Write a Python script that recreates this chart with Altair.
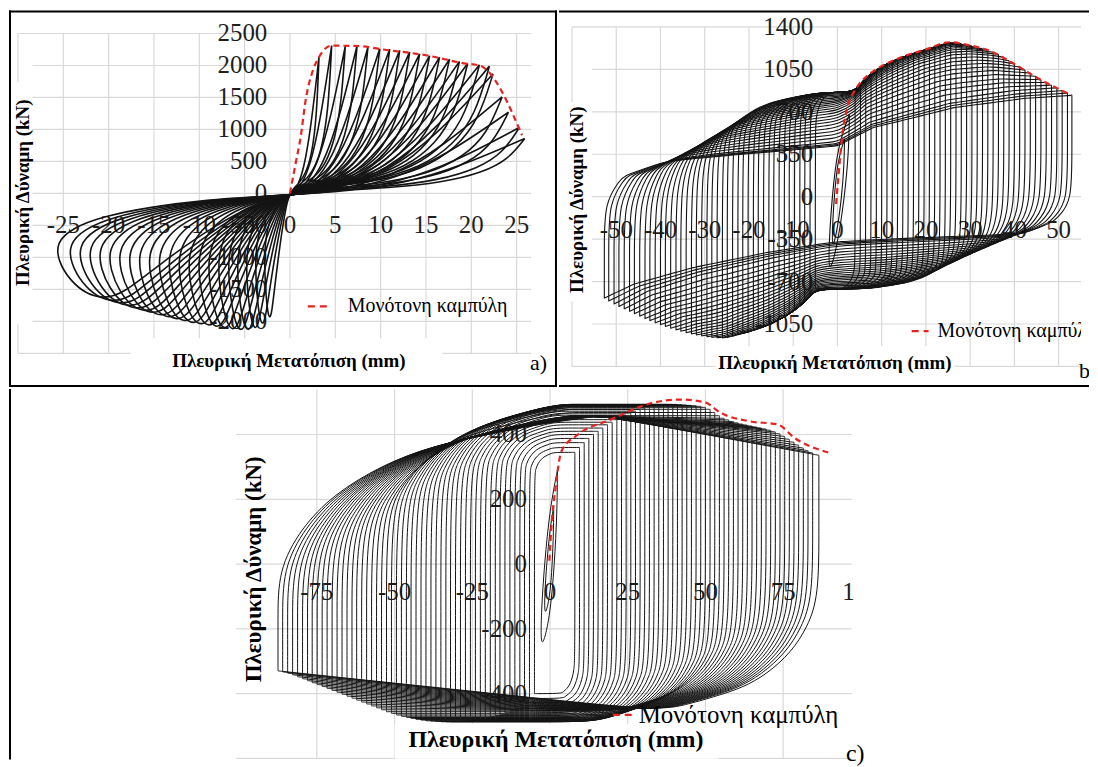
import numpy as np
import pandas as pd
import altair as alt

SERIF = "Liberation Serif"
INK = "#141414"
GRID = "#d9d9d9"
RED = "#e8231f"

# ---------------- panel (a) : peaks of every cycle ----------------
A_DP = [3.2, 4.6, 6.1, 7.4, 8.6, 9.9, 11.0, 12.1, 13.2, 14.3, 15.4, 16.5, 17.6, 18.7, 19.6, 20.9, 22.0, 22.4, 23.4, 24.1, 25.3, 25.9]
A_FP = [2130, 2310, 2300, 2310, 2285, 2260, 2255, 2235, 2210, 2180, 2155, 2130, 2100, 2065, 2030, 2010, 1990, 1870, 1510, 1270, 1030, 860]
A_DN = [2.8, 3.8, 4.8, 5.8, 6.8, 7.9, 9.0, 10.1, 11.2, 12.3, 13.4, 14.5, 15.6, 16.7, 17.8, 18.9, 20.0, 21.1, 22.2, 23.3, 24.4, 25.8]
A_FN = [1950, 2050, 2120, 2150, 2150, 2140, 2120, 2100, 2080, 2060, 2040, 2010, 1980, 1950, 1920, 1880, 1850, 1810, 1770, 1730, 1690, 1640]
A_MONO_X = [0.0, 0.6, 1.2, 1.7, 2.6, 3.2, 4.6, 7.5, 10.0, 15.0, 19.4, 20.9, 25.6]
A_MONO_Y = [0, 450, 900, 1430, 1950, 2130, 2310, 2305, 2255, 2160, 2030, 2000, 910]
A_XTICKS = [-25, -20, -15, -10, -5, 0, 5, 10, 15, 20, 25]
A_YTICKS = [2500, 2000, 1500, 1000, 500, 0, -500, -1000, -1500, -2000]
A_GRID_X = [-30, -25, -20, -15, -10, -5, 0, 5, 10, 15, 20, 25]
A_GRID_Y = [2500, 2000, 1500, 1000, 500, 0, -500, -1000, -1500, -2000, -2500]
# loop shape of (a), normalised by the cycle peaks
A_TU = [1.0, 0.72, 0.48, 0.26, 0.08, -0.12, -0.35, -0.6, -0.8, -0.93, -1.0, -0.99, -0.94, -0.87, -0.8, -0.72, -0.55, -0.32, -0.13, 0.0, 0.18, 0.42, 0.65, 0.82, 0.93, 1.0]
A_TV = [1.0, 0.48, 0.18, 0.05, 0.0, -0.03, -0.06, -0.13, -0.22, -0.33, -0.47, -0.65, -0.83, -0.96, -1.0, -0.97, -0.66, -0.3, -0.08, 0.0, 0.05, 0.1, 0.2, 0.38, 0.62, 1.0]

# ---------------- panel (b) ----------------
B_DP = [4.0, 5.2, 6.4, 7.6, 8.8, 10.0, 11.2, 12.4, 13.6, 14.8, 16.0, 17.2, 18.4, 19.6, 20.8, 22.0, 23.2, 24.4, 25.6, 26.8, 28.0, 29.2, 30.4, 31.6, 32.8, 34.0, 35.2, 36.4, 37.6, 38.8, 40.0, 41.2, 42.4, 43.6, 44.8, 46.0, 47.2, 48.4, 49.6, 50.8, 52.0, 53.0]
B_FP = [860, 930, 975, 1010, 1045, 1070, 1095, 1115, 1135, 1150, 1165, 1180, 1195, 1208, 1220, 1235, 1250, 1262, 1272, 1268, 1262, 1252, 1243, 1232, 1220, 1206, 1192, 1172, 1150, 1122, 1095, 1070, 1045, 1020, 993, 965, 943, 920, 898, 875, 855, 836]
B_DN = [5.0, 6.2, 7.4, 8.5, 9.7, 10.9, 12.0, 13.2, 14.4, 15.5, 16.7, 17.9, 19.0, 20.2, 21.4, 22.5, 23.7, 24.9, 26.0, 27.2, 28.4, 29.5, 30.7, 31.9, 33.0, 34.2, 35.4, 36.5, 37.7, 38.9, 40.0, 41.2, 42.4, 43.5, 44.7, 45.9, 47.0, 48.2, 49.4, 50.5, 51.7, 52.7]
B_FN = [760, 820, 865, 900, 935, 965, 990, 1012, 1035, 1055, 1072, 1088, 1102, 1115, 1127, 1138, 1150, 1160, 1165, 1163, 1160, 1155, 1148, 1140, 1132, 1122, 1110, 1098, 1085, 1070, 1055, 1040, 1022, 1005, 985, 965, 945, 925, 905, 885, 860, 836]
B_SMALL_DP = [1.6, 2.7]
B_SMALL_FP = [480, 680]
B_SMALL_DN = [1.2, 2.0]
B_SMALL_FN = [450, 670]
B_MONO_X = [-0.3, 0.3, 1.1, 2.3, 4.2, 6.5, 8.9, 14.4, 20.0, 25.3, 30.0, 35.0, 39.3, 45.6, 53.0]
B_MONO_Y = [-60, 200, 507, 740, 890, 990, 1054, 1150, 1215, 1274, 1248, 1195, 1109, 972, 836]
B_XTICKS = [-50, -40, -30, -20, -10, 0, 10, 20, 30, 40, 50]
B_YTICKS = [1400, 1050, 700, 350, 0, -350, -700, -1050]
B_GRID_X = [-60, -50, -40, -30, -20, -10, 0, 10, 20, 30, 40, 50]
B_GRID_Y = [1400, 1050, 700, 350, 0, -350, -700, -1050, -1400]
# pinched branches of the widest cycles (normalised)
B_PUP_U = [-1.0, -0.92, -0.75, -0.6, -0.3, 0.0, 0.15, 0.5, 0.8, 1.0]
B_PUP_V = [-0.05, 0.2, 0.34, 0.38, 0.44, 0.5, 0.68, 0.88, 0.97, 1.0]
B_PDN_U = [1.0, 0.92, 0.8, 0.64, 0.3, 0.0, -0.3, -0.62, -0.87, -1.0]
B_PDN_V = [-0.05, -0.25, -0.36, -0.38, -0.41, -0.44, -0.55, -0.7, -0.86, -1.0]

# ---------------- panel (c) ----------------
C_DP = [8.0, 9.5, 11.0, 12.5, 14.0, 15.5, 17.0, 18.5, 20.0, 21.5, 23.0, 24.5, 26.0, 27.5, 29.0, 30.5, 32.0, 33.5, 35.0, 36.5, 38.0, 39.5, 41.0, 42.5, 44.0, 45.5, 47.0, 48.5, 50.0, 51.5, 53.0, 54.5, 56.0, 57.5, 59.0, 60.5, 62.0, 63.5, 65.0, 66.5, 68.0, 69.5, 71.0, 72.5, 74.0, 75.5, 77.0, 78.5, 80.0, 81.5, 83.0, 84.5, 86.5]
C_FP = [345, 360, 375, 388, 400, 410, 420, 430, 438, 446, 453, 460, 466, 472, 477, 482, 486, 489, 491, 492, 493, 493, 493, 492, 491, 490, 489, 487, 484, 478, 468, 458, 450, 445, 440, 436, 432, 429, 426, 423, 420, 417, 413, 408, 402, 394, 385, 376, 367, 358, 350, 343, 336]
C_DN = [5.0, 6.6, 8.2, 9.7, 11.3, 12.9, 14.5, 16.1, 17.6, 19.2, 20.8, 22.4, 24.0, 25.6, 27.2, 28.8, 30.4, 32.0, 33.5, 35.1, 36.7, 38.3, 39.9, 41.5, 43.1, 44.7, 46.2, 47.8, 49.4, 51.0, 52.6, 54.2, 55.8, 57.4, 59.0, 60.6, 62.2, 63.7, 65.3, 66.9, 68.5, 70.1, 71.7, 73.3, 74.9, 76.5, 78.0, 79.6, 81.2, 82.8, 84.4, 86.0, 87.5]
C_FN = [400, 415, 428, 438, 446, 453, 459, 464, 468, 472, 475, 478, 480, 482, 484, 485, 486, 487, 487, 487, 486, 485, 484, 482, 480, 477, 474, 470, 466, 461, 456, 450, 444, 438, 432, 426, 420, 414, 408, 402, 396, 390, 384, 378, 372, 366, 360, 354, 348, 342, 337, 333, 330]
C_SMALL_DP = [1.2, 2.4]
C_SMALL_FP = [180, 290]
C_SMALL_DN = [1.8, 3.0]
C_SMALL_FN = [170, 280]
C_MONO_X = [-0.2, 0.5, 1.8, 3.7, 9.0, 19.5, 32.6, 41.8, 49.7, 54.9, 64.1, 73.3, 78.6, 89.7]
C_MONO_Y = [10, 120, 236, 349, 400, 446, 497, 508, 500, 467, 441, 431, 390, 344]
C_XTICKS = [-75, -50, -25, 0, 25, 50, 75, 100]
C_YTICKS = [400, 200, 0, -200, -400]
C_GRID_X = [-75, -50, -25, 0, 25, 50, 75, 100]
C_GRID_Y = [400, 200, 0, -200, -400, -600]

# small narrow loops near the origin (normalised)
LENS_U = [1.0, 0.95, 0.6, 0.0, -1.0, -0.95, -0.6, 0.0, 1.0]
LENS_V = [1.0, 0.55, 0.0, -0.6, -1.0, -0.55, 0.0, 0.6, 1.0]
# rise of a reloading branch after its knee
RISE_T = [0.0, 0.07, 0.17, 0.32, 0.47, 0.65, 0.82, 1.0]
RISE_G = [0.0, 0.27, 0.49, 0.68, 0.8, 0.88, 0.95, 1.0]

LEGEND = "Μονότονη καμπύλη"
XTITLE = "Πλευρική Μετατόπιση (mm)"
YTITLE = "Πλευρική Δύναμη (kN)"


def lerp(a, b, t):
    return a + (b - a) * t


def scale_uv(u, v, dp, fp, dn, fn):
    x = u * dp if u >= 0 else u * dn
    y = v * fp if v >= 0 else v * fn
    return x, y


def template_loops(DP, FP, DN, FN, TU, TV, start_id=0):
    rows = []
    for j in range(len(DP)):
        pts = [scale_uv(u, v, DP[j], FP[j], DN[j], FN[j]) for u, v in zip(TU, TV)]
        pts = [pts[0]] * 2 + pts + [pts[-1]] * 2
        for i, (x, y) in enumerate(pts):
            rows.append({"loop": start_id + j, "i": i, "x": round(x, 3), "y": round(y, 2)})
    return rows


def box_loops(DP, FP, DN, FN, prm, pinch=None):
    rows = []
    n = len(DP)
    for j in range(n):
        dp, fp, dn, fn = DP[j], FP[j], DN[j], FN[j]
        w = j / (n - 1)
        W = dp + dn
        p = 0.0
        if pinch is not None:
            p = float(np.clip((dp - pinch["d0"]) / (pinch["d1"] - pinch["d0"]), 0, 1))
        K = lerp(prm["kup"][0], prm["kup"][1], w) * fp
        S = lerp(prm["sup"][0], prm["sup"][1], w) * W
        Kd = lerp(prm["kdn"][0], prm["kdn"][1], w) * fn
        Sd = lerp(prm["sdn"][0], prm["sdn"][1], w) * W

        if prm["env"] == "lin":
            pm = max(fp, prm["deg"] * max(FP[: j + 1]))
            nm = max(fn, prm["deg"] * max(FN[: j + 1]))
            xa, xb = -dn + S, dp - Sd

            def top_env(x):
                if x <= xa:
                    return pm
                return pm + (fp - pm) * (x - xa) / (dp - xa)

            def bot_env(x):
                if x >= xb:
                    return nm
                return nm + (fn - nm) * (xb - x) / (xb + dn)
        else:
            def top_env(x):
                return float(np.interp(x, DP[: j + 1], FP[: j + 1]))

            def bot_env(x):
                return float(np.interp(-x, DN[: j + 1], FN[: j + 1]))

        # lower branch: + peak -> - peak
        xs = {dp - t * Sd for t in RISE_T}
        xs |= {-DN[k] for k in range(j)}
        if p > 0:
            xs |= {(u * dp if u >= 0 else u * dn) for u in B_PDN_U}
        xs = sorted((x for x in xs if -dn + 1e-6 < x <= dp + 1e-9), reverse=True)
        lower = []
        for x in xs:
            g = np.interp((dp - x) / Sd, RISE_T, RISE_G)
            y = -(Kd + (bot_env(x) - Kd) * g)
            if p > 0:
                u = x / dp if x >= 0 else x / dn
                yp = fn * np.interp(u, B_PDN_U[::-1], B_PDN_V[::-1])
                y = (1 - p) * y + p * yp
            lower.append((x, y))

        # upper branch: - peak -> + peak
        xs = {-dn + t * S for t in RISE_T}
        xs |= {DP[k] for k in range(j)}
        if p > 0:
            xs |= {(u * dp if u >= 0 else u * dn) for u in B_PUP_U}
        xs = sorted(x for x in xs if -dn - 1e-9 <= x < dp - 1e-6)
        upper = []
        for x in xs:
            g = np.interp((x + dn) / S, RISE_T, RISE_G)
            y = K + (top_env(x) - K) * g
            if p > 0:
                u = x / dp if x >= 0 else x / dn
                yp = fp * np.interp(u, B_PUP_U, B_PUP_V)
                y = (1 - p) * y + p * yp
            upper.append((x, y))

        pts = [(dp, fp)] * 3 + [(dp, (fp + lower[0][1]) / 2)] + lower
        pts += [(-dn, -fn)] * 3 + [(-dn, (-fn + upper[0][1]) / 2)] + upper + [(dp, fp)] * 3
        for i, (x, y) in enumerate(pts):
            rows.append({"loop": j, "i": i, "x": round(x, 3), "y": round(y, 2)})
    return rows


# ---------------- chart helpers ----------------
def scales(ox, oy, W, H, x0px, xppu, y0px, yppu):
    xd = [(ox - x0px) / xppu, (ox + W - x0px) / xppu]
    yd = [(y0px - (oy + H)) / yppu, (y0px - oy) / yppu]
    return (alt.Scale(domain=xd, nice=False, zero=False),
            alt.Scale(domain=yd, nice=False, zero=False))


def one():
    return pd.DataFrame({"k": [0]})


def ptext(txt, px, py, size, bold=False, angle=0, align="center", clip=False):
    return alt.Chart(pd.DataFrame({"t": [txt]})).mark_text(
        font=SERIF, fontSize=size, fontWeight="bold" if bold else "normal",
        angle=angle, align=align, baseline="middle", color="black", clip=clip
    ).encode(x=alt.value(px), y=alt.value(py), text="t:N")


def prule(x1, x2, y1, y2, color="black", width=2, dash=None):
    kw = dict(color=color, strokeWidth=width)
    if dash:
        kw["strokeDash"] = dash
    return alt.Chart(one()).mark_rule(**kw).encode(
        x=alt.value(x1), x2=alt.value(x2), y=alt.value(y1), y2=alt.value(y2))


def prect(x1, x2, y1, y2):
    return alt.Chart(one()).mark_rect(color="white").encode(
        x=alt.value(x1), x2=alt.value(x2), y=alt.value(y1), y2=alt.value(y2))


def grid(gx, gy, GX, GY, hx0, hx1, edge_x, vy0, vy1):
    vdf = pd.DataFrame({"x": GX, "y": [vy0] * len(GX), "y2": [vy1] * len(GX)})
    hdf = pd.DataFrame({"y": GY,
                        "x": [edge_x if k in (0, len(GY) - 1) else hx0 for k in range(len(GY))],
                        "x2": [hx1] * len(GY)})
    v = alt.Chart(vdf).mark_rule(color=GRID, strokeWidth=1.2).encode(
        x=alt.X("x:Q", scale=gx, axis=None), y=alt.Y("y:Q", scale=gy, axis=None), y2="y2:Q")
    h = alt.Chart(hdf).mark_rule(color=GRID, strokeWidth=1.2).encode(
        x=alt.X("x:Q", scale=gx, axis=None), x2="x2:Q", y=alt.Y("y:Q", scale=gy, axis=None))
    return [v, h]


def ticks(gx, gy, XT, xlab_y, YT, ylab_x, size):
    xdf = pd.DataFrame({"x": XT, "y": [xlab_y] * len(XT), "lab": [str(v) for v in XT]})
    ydf = pd.DataFrame({"x": [ylab_x] * len(YT), "y": YT, "lab": [str(v) for v in YT]})
    tx = alt.Chart(xdf).mark_text(font=SERIF, fontSize=size, align="center", baseline="middle",
                                  color="#1e1e1e").encode(
        x=alt.X("x:Q", scale=gx, axis=None), y=alt.Y("y:Q", scale=gy, axis=None), text="lab:N")
    ty = alt.Chart(ydf).mark_text(font=SERIF, fontSize=size, align="right", baseline="middle",
                                  color="#1e1e1e").encode(
        x=alt.X("x:Q", scale=gx, axis=None), y=alt.Y("y:Q", scale=gy, axis=None), text="lab:N")
    return [tx, ty]


def loops_layer(rows, gx, gy, width):
    df = pd.DataFrame(rows)
    return alt.Chart(df).mark_line(interpolate="basis", color=INK, strokeWidth=width,
                                   strokeJoin="round").encode(
        x=alt.X("x:Q", scale=gx, axis=None), y=alt.Y("y:Q", scale=gy, axis=None),
        detail="loop:N", order="i:Q")


def mono_layer(X, Y, gx, gy):
    df = pd.DataFrame({"x": X, "y": Y, "i": list(range(len(X)))})
    return alt.Chart(df).mark_line(interpolate="monotone", color=RED, strokeWidth=2.2,
                                   strokeDash=[6, 4]).encode(
        x=alt.X("x:Q", scale=gx, axis=None), y=alt.Y("y:Q", scale=gy, axis=None), order="i:Q")


# ---------------- panel (a) ----------------
AOX, AOY, AW, AH = 8, 8, 550, 378
gxa, gya = scales(AOX, AOY, AW, AH, 290.0, 9.1, 191.7, 0.0642)
a_layers = grid(gxa, gya, A_GRID_X, A_GRID_Y, -28.4, 26.6, -30, -2500, 2500)
a_layers += [prect(0, 22, 72, 315), prect(122, 435, 329, 376)]
a_layers += ticks(gxa, gya, A_XTICKS, -500, A_YTICKS, -2.5, 25)
a_layers.append(loops_layer(template_loops(A_DP, A_FP, A_DN, A_FN, A_TU, A_TV), gxa, gya, 1.6))
a_layers.append(mono_layer(A_MONO_X, A_MONO_Y, gxa, gya))
a_layers += [
    prule(308 - AOX, 327 - AOX, 305 - AOY, 305 - AOY, RED, 2.2, [7, 5]),
    ptext(LEGEND, 348 - AOX, 305 - AOY, 20, align="left"),
    ptext(XTITLE, 289 - AOX, 360 - AOY, 19, bold=True),
    ptext(YTITLE, 22 - AOX, 191 - AOY, 19, bold=True, angle=270),
    ptext("a)", 531 - AOX, 362 - AOY, 22, align="left"),
    prule(0, AW, 1, 1), prule(1, 1, 0, AH), prule(AW - 1, AW - 1, 0, AH), prule(0, AW, AH - 1, AH - 1),
]
panel_a = alt.layer(*a_layers).properties(width=AW, height=AH)

# ---------------- panel (b) ----------------
BOX, BOY, BW, BH = 558, 8, 532, 378
gxb, gyb = scales(BOX, BOY, BW, BH, 837.5, 4.44, 195.0, 0.1217)
b_prm = {"env": "interp", "kup": (0.68, -0.05), "sup": (0.4, 0.5),
         "kdn": (0.72, 0.05), "sdn": (0.35, 0.4)}
b_rows = box_loops(B_DP, B_FP, B_DN, B_FN, b_prm, pinch={"d0": 24.0, "d1": 50.0})
b_rows += template_loops(B_SMALL_DP, B_SMALL_FP, B_SMALL_DN, B_SMALL_FN, LENS_U, LENS_V, 1000)
b_layers = grid(gxb, gyb, B_GRID_X, B_GRID_Y, -55.5, 55.4, -60, -1400, 1400)
b_layers += [prect(2, 30, 92, 292), prect(157, 397, 337, 376)]
b_layers += ticks(gxb, gyb, B_XTICKS, -274, B_YTICKS, -5.5, 25)
b_layers.append(loops_layer(b_rows, gxb, gyb, 1.1))
b_layers.append(mono_layer(B_MONO_X, B_MONO_Y, gxb, gyb))
b_layers += [
    prule(912 - BOX, 929 - BOX, 330 - BOY, 330 - BOY, RED, 2.2, [7, 5]),
    ptext(LEGEND, 938 - BOX, 330 - BOY, 20, align="left", clip=True),
    prect(1082 - BOX, BW, 4, 350),
    ptext(XTITLE, 835 - BOX, 362 - BOY, 19, bold=True),
    ptext(YTITLE, 576 - BOX, 198 - BOY, 19, bold=True, angle=270),
    ptext("b)", 1080 - BOX, 370 - BOY, 22, align="left", clip=True),
    prule(0, BW, 1, 1), prule(0, BW, BH - 1, BH - 1),
]
panel_b = alt.layer(*b_layers).properties(width=BW, height=BH)

# ---------------- panel (c) ----------------
COX, COY, CW, CH = 8, 386, 1082, 372
gxc, gyc = scales(COX, COY, CW, CH, 551.0, 3.12, 561.7, 0.325)
c_prm = {"env": "lin", "deg": 0.93, "kup": (0.8, -0.06), "sup": (0.5, 0.6),
         "kdn": (0.75, 0.3), "sdn": (0.35, 0.3)}
c_rows = box_loops(C_DP, C_FP, C_DN, C_FN, c_prm)
c_rows += template_loops(C_SMALL_DP, C_SMALL_FP, C_SMALL_DN, C_SMALL_FN, LENS_U, LENS_V, 1000)
c_layers = grid(gxc, gyc, C_GRID_X, C_GRID_Y, -101, 97, -101, -600, 540)
c_layers += [prect(387, 712, 336, 371)]
c_layers += ticks(gxc, gyc, C_XTICKS, -87, C_YTICKS, -7.4, 25)
c_layers.append(loops_layer(c_rows, gxc, gyc, 1.0))
c_layers.append(mono_layer(C_MONO_X, C_MONO_Y, gxc, gyc))
c_layers += [
    prect(857 - COX, CW - 1, 0, CH - 1),
    prule(614 - COX, 634 - COX, 713 - COY, 713 - COY, RED, 2.2, [7, 5]),
    ptext(LEGEND, 640 - COX, 713 - COY, 25, align="left"),
    ptext(XTITLE, 557 - COX, 738 - COY, 24, bold=True),
    ptext(YTITLE, 254 - COX, 567 - COY, 23, bold=True, angle=270),
    ptext("c)", 848 - COX, 752 - COY, 24, align="left"),
    prule(1, 1, 0, CH),
]
panel_c = alt.layer(*c_layers).properties(width=CW, height=CH)

top = alt.hconcat(panel_a, panel_b, spacing=0)
chart = alt.vconcat(top, panel_c, spacing=0).properties(
    padding=0).configure_view(stroke=None)

chart.save("out.html", embed_options={"renderer": "svg", "actions": False})
